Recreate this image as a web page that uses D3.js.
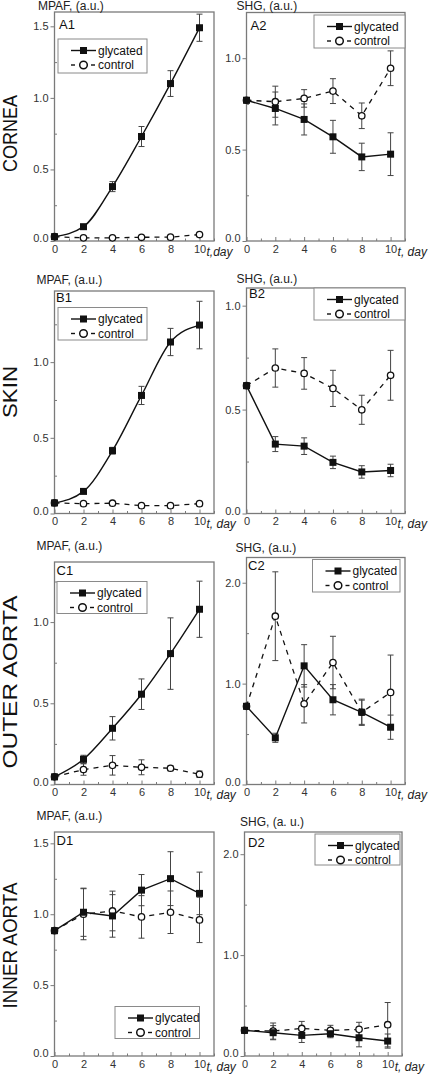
<!DOCTYPE html>
<html><head><meta charset="utf-8">
<script src="https://cdn.jsdelivr.net/npm/d3@7"></script>
<style>body{margin:0;background:#fff}svg{display:block}text{font-family:"Liberation Sans",Arial,sans-serif;fill:#222}</style>
</head><body><svg id="c" width="435" height="1079"></svg>
<script>
// ---------- data ----------
const days = [0, 2, 4, 6, 8, 10];
const xTickLabels = [0, 2, 4, 6, 8, 10];
const seriesNames = ["glycated", "control"];
const rowLabels = ["CORNEA", "SKIN", "OUTER AORTA", "INNER AORTA"];
const panelLabels = ["A1", "A2", "B1", "B2", "C1", "C2", "D1", "D2"];
const yTitles = ["MPAF, (a.u.)", "SHG, (a.u.)", "MPAF, (a.u.)", "SHG, (a.u.)", "MPAF, (a.u.)", "SHG, (a.u.)", "MPAF, (a.u.)", "SHG, (a. u.)"];
const xTitles = ["t,day", "t, day", "t, day", "t, day", "t, day", "t, day", "t, day", "t, day"];
const yTicksA1 = [0, 0.5, 1.0, 1.5];
const yTicksA2 = [0, 0.5, 1.0];
const yTicksB1 = [0, 0.5, 1.0];
const yTicksB2 = [0, 0.5, 1.0];
const yTicksC1 = [0, 0.5, 1.0];
const yTicksC2 = [0, 1.0, 2.0];
const yTicksD1 = [0, 0.5, 1.0, 1.5];
const yTicksD2 = [0, 1.0, 2.0];

const a1Gly    = [0.03, 0.10, 0.38, 0.73, 1.10, 1.49];
const a1GlyErr = [0.005, 0.01, 0.035, 0.07, 0.09, 0.095];
const a1Ctl    = [0.03, 0.022, 0.022, 0.026, 0.027, 0.045];
const a1CtlErr = [0.005, 0.008, 0.008, 0.008, 0.008, 0.01];

const a2Gly    = [0.77, 0.725, 0.665, 0.57, 0.46, 0.475];
const a2GlyErr = [0.0, 0.09, 0.085, 0.09, 0.075, 0.117];
const a2Ctl    = [0.77, 0.762, 0.78, 0.82, 0.685, 0.945];
const a2CtlErr = [0.0, 0.085, 0.048, 0.068, 0.07, 0.095];

const b1Gly    = [0.07, 0.146, 0.415, 0.78, 1.133, 1.245];
const b1GlyErr = [0.005, 0.01, 0.022, 0.06, 0.09, 0.157];
const b1Ctl    = [0.07, 0.065, 0.068, 0.052, 0.052, 0.065];
const b1CtlErr = [0.004, 0.005, 0.005, 0.005, 0.005, 0.005];

const b2Gly    = [0.615, 0.334, 0.324, 0.246, 0.2, 0.207];
const b2GlyErr = [0.0, 0.036, 0.04, 0.03, 0.03, 0.03];
const b2Ctl    = [0.615, 0.70, 0.674, 0.602, 0.499, 0.665];
const b2CtlErr = [0.0, 0.092, 0.076, 0.087, 0.07, 0.12];

const c1Gly    = [0.047, 0.155, 0.346, 0.556, 0.806, 1.079];
const c1GlyErr = [0.005, 0.025, 0.072, 0.094, 0.22, 0.173];
const c1Ctl    = [0.047, 0.092, 0.118, 0.106, 0.10, 0.063];
const c1CtlErr = [0.005, 0.035, 0.06, 0.046, 0.015, 0.02];

const c2Gly    = [0.775, 0.463, 1.176, 0.84, 0.716, 0.568];
const c2GlyErr = [0.0, 0.045, 0.21, 0.15, 0.12, 0.12];
const c2Ctl    = [0.775, 1.668, 0.80, 1.209, 0.716, 0.913];
const c2CtlErr = [0.0, 0.44, 0.19, 0.26, 0.13, 0.37];

const d1Gly    = [0.884, 1.014, 0.988, 1.17, 1.251, 1.147];
const d1GlyErr = [0.0, 0.17, 0.15, 0.11, 0.19, 0.15];
const d1Ctl    = [0.884, 1.0, 1.023, 0.981, 1.014, 0.96];
const d1CtlErr = [0.0, 0.18, 0.14, 0.15, 0.15, 0.16];

const d2Gly    = [0.254, 0.231, 0.204, 0.221, 0.181, 0.148];
const d2GlyErr = [0.0, 0.07, 0.07, 0.04, 0.09, 0.07];
const d2Ctl    = [0.254, 0.247, 0.273, 0.254, 0.264, 0.31];
const d2CtlErr = [0.0, 0.08, 0.07, 0.05, 0.07, 0.22];

// ---------- layout ----------
const panels = [
  {gly:a1Gly, gErr:a1GlyErr, ctl:a1Ctl, cErr:a1CtlErr, ticks:yTicksA1, ymax:1.6,  x0:54.5, x1:214, top:12,   bot:241,   smooth:true,  leg:[58,39,89,34],      lab:[59,29],    tt:[38,9.5]},
  {gly:a2Gly, gErr:a2GlyErr, ctl:a2Ctl, cErr:a2CtlErr, ticks:yTicksA2, ymax:1.25, x0:246.5,x1:405, top:12.5, bot:241,   smooth:false, leg:[314,15,91,33],     lab:[250.5,30], tt:[236.5,9.5]},
  {gly:b1Gly, gErr:b1GlyErr, ctl:b1Ctl, cErr:b1CtlErr, ticks:yTicksB1, ymax:1.47, x0:54.5, x1:214, top:291,  bot:513.5, smooth:true,  leg:[58,307.5,89,32.5], lab:[56,301.5], tt:[36.5,283.5]},
  {gly:b2Gly, gErr:b2GlyErr, ctl:b2Ctl, cErr:b2CtlErr, ticks:yTicksB2, ymax:1.085,x0:246.5,x1:405, top:288,  bot:513.5, smooth:false, leg:[314,288,91,32],    lab:[249,297.5],tt:[236.5,283]},
  {gly:c1Gly, gErr:c1GlyErr, ctl:c1Ctl, cErr:c1CtlErr, ticks:yTicksC1, ymax:1.37, x0:54.5, x1:214, top:562,  bot:784.5, smooth:true,  leg:[57,581.5,90,32],   lab:[56.5,575], tt:[36.5,550]},
  {gly:c2Gly, gErr:c2GlyErr, ctl:c2Ctl, cErr:c2CtlErr, ticks:yTicksC2, ymax:2.25, x0:246.5,x1:405, top:557.5,bot:784.5, smooth:false, leg:[312.5,559.5,87.5,32.5], lab:[248,569.5],tt:[235.5,552]},
  {gly:d1Gly, gErr:d1GlyErr, ctl:d1Ctl, cErr:d1CtlErr, ticks:yTicksD1, ymax:1.58, x0:54.5, x1:214, top:832,  bot:1056,  smooth:false, leg:[115,1006.5,84.5,32], lab:[56.5,844.5],tt:[36.5,820]},
  {gly:d2Gly, gErr:d2GlyErr, ctl:d2Ctl, cErr:d2CtlErr, ticks:yTicksD2, ymax:2.22, x0:244.5,x1:402, top:832,  bot:1056,  smooth:false, leg:[315,834,85,31],    lab:[248,847],  tt:[240,826]}
];
const rowLabelPos = [[17,133.5,77],[17,392,52],[17,682,173],[17,945.5,126]];

const svg = d3.select("#c");
const frameCol = "#7a7a7a";

rowLabels.forEach((t, i) => {
  const [x, y, len] = rowLabelPos[i];
  svg.append("text").attr("transform", `translate(${x},${y}) rotate(-90)`)
    .attr("text-anchor", "middle").attr("font-size", 20)
    .attr("textLength", len).attr("lengthAdjust", "spacingAndGlyphs")
    .style("fill", "#111").text(t);
});

panels.forEach((p, i) => {
  const x = d3.scaleLinear().domain([0, 11]).range([p.x0, p.x1]);
  const y = d3.scaleLinear().domain([0, p.ymax]).range([p.bot, p.top]);
  const g = svg.append("g");

  // x axis: inward ticks, minor at odd
  const xAx = d3.axisBottom(x).tickValues(xTickLabels).tickSize(-4).tickPadding(4).tickFormat(d3.format("d"));
  const xMin = d3.axisBottom(x).tickValues(d3.range(1, 12, 2)).tickSize(-2.5).tickFormat("");
  const gx = g.append("g").attr("transform", `translate(0,${p.bot})`).call(xAx);
  const gxm = g.append("g").attr("transform", `translate(0,${p.bot})`).call(xMin);
  // y axis: outward major, inward minor
  const step = p.ticks[1] - p.ticks[0];
  const yAx = d3.axisLeft(y).tickValues(p.ticks).tickSize(4).tickPadding(2).tickFormat(d3.format(".1f"));
  const minors = d3.range(step / 2, p.ymax, step).filter(v => p.ticks.every(t => Math.abs(t - v) > 1e-6));
  const yMin = d3.axisLeft(y).tickValues(minors).tickSize(-2.5).tickFormat("");
  const gy = g.append("g").attr("transform", `translate(${p.x0},0)`).call(yAx);
  const gym = g.append("g").attr("transform", `translate(${p.x0},0)`).call(yMin);
  [gx, gxm, gy, gym].forEach(a => {
    a.select(".domain").remove();
    a.selectAll("line").attr("stroke", frameCol).attr("stroke-width", 1);
    a.selectAll("text").attr("font-size", 11).style("fill", "#333").attr("font-family", '"Liberation Sans",Arial,sans-serif');
  });
  // keep the 0.0 label clear of the neighbouring x-title
  gy.selectAll("text").filter(d => d === 0).attr("dy", "0.05em");
  // frame
  g.append("rect").attr("x", p.x0).attr("y", p.top).attr("width", p.x1 - p.x0).attr("height", p.bot - p.top)
    .attr("fill", "none").attr("stroke", frameCol).attr("stroke-width", 1.3);

  // titles
  g.append("text").attr("x", p.tt[0]).attr("y", p.tt[1]).attr("font-size", 12).style("fill", "#222").text(yTitles[i]);
  g.append("text").attr("x", x(10) + 7).attr("y", p.bot + 14.5).attr("font-size", 12)
    .attr("font-style", "italic").style("fill", "#222").text(xTitles[i]);
  g.append("text").attr("x", p.lab[0]).attr("y", p.lab[1]).attr("font-size", 13).style("fill", "#111").text(panelLabels[i]);

  const dataG = days.map((d, k) => ({d, v: p.gly[k], e: p.gErr[k]}));
  const dataC = days.map((d, k) => ({d, v: p.ctl[k], e: p.cErr[k]}));

  // error bars
  const drawErr = (data) => {
    data.filter(o => o.e > 0).forEach(o => {
      const cx = x(o.d), y1 = y(o.v + o.e), y2 = y(o.v - o.e);
      g.append("line").attr("x1", cx).attr("x2", cx).attr("y1", y1).attr("y2", y2).attr("stroke", "#444").attr("stroke-width", 1);
      [y1, y2].forEach(yy => g.append("line").attr("x1", cx - 3).attr("x2", cx + 3).attr("y1", yy).attr("y2", yy).attr("stroke", "#444").attr("stroke-width", 1));
    });
  };
  drawErr(dataC);
  drawErr(dataG);

  const lineG = d3.line().x(o => x(o.d)).y(o => y(o.v)).curve(p.smooth ? d3.curveMonotoneX : d3.curveLinear);
  const lineC = d3.line().x(o => x(o.d)).y(o => y(o.v));
  g.append("path").datum(dataC).attr("d", lineC).attr("fill", "none").attr("stroke", "#111").attr("stroke-width", 1.3).attr("stroke-dasharray", "5,5");
  g.append("path").datum(dataG).attr("d", lineG).attr("fill", "none").attr("stroke", "#111").attr("stroke-width", 1.4);

  g.selectAll(null).data(dataC).join("circle").attr("cx", o => x(o.d)).attr("cy", o => y(o.v)).attr("r", 3.2)
    .attr("fill", "#fff").attr("stroke", "#111").attr("stroke-width", 1.3);
  g.selectAll(null).data(dataG).join("rect").attr("x", o => x(o.d) - 3.5).attr("y", o => y(o.v) - 3.5)
    .attr("width", 7).attr("height", 7).attr("fill", "#111");

  // legend
  const [lx, ly, lw, lh] = p.leg;
  g.append("rect").attr("x", lx).attr("y", ly).attr("width", lw).attr("height", lh).attr("fill", "#fff").attr("stroke", "#8a8a8a").attr("stroke-width", 1);
  const r1 = ly + 11.5, r2 = ly + 26;
  g.append("line").attr("x1", lx + 13).attr("x2", lx + 38).attr("y1", r1).attr("y2", r1).attr("stroke", "#111").attr("stroke-width", 1.4);
  g.append("rect").attr("x", lx + 22).attr("y", r1 - 3.5).attr("width", 7).attr("height", 7).attr("fill", "#111");
  g.append("line").attr("x1", lx + 13).attr("x2", lx + 17).attr("y1", r2).attr("y2", r2).attr("stroke", "#111").attr("stroke-width", 1.4);
  g.append("line").attr("x1", lx + 33).attr("x2", lx + 37).attr("y1", r2).attr("y2", r2).attr("stroke", "#111").attr("stroke-width", 1.4);
  g.append("circle").attr("cx", lx + 25.5).attr("cy", r2).attr("r", 3.8).attr("fill", "#fff").attr("stroke", "#111").attr("stroke-width", 1.5);
  g.append("text").attr("x", lx + 40).attr("y", r1 + 4.2).attr("font-size", 12).style("fill", "#111").text(seriesNames[0]);
  g.append("text").attr("x", lx + 40).attr("y", r2 + 4.2).attr("font-size", 12).style("fill", "#111").text(seriesNames[1]);
});
</script></body></html>
